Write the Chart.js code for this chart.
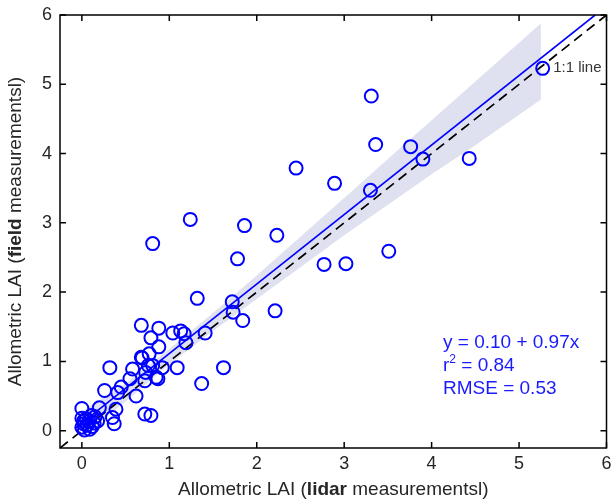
<!DOCTYPE html>
<html>
<head>
<meta charset="utf-8">
<script src="https://cdn.jsdelivr.net/npm/chart.js@4/dist/chart.umd.min.js"></script>
<style>
  body { margin: 0; background: #fff; }
  canvas { display: block; }
</style>
</head>
<body>
<canvas id="chart" width="615" height="501"></canvas>
<script>
// values
const lidarLAI = [0.00, 0.00, 0.02, 0.00, 0.03, 0.06, 0.08, 0.11, 0.12, 0.09, 0.15, 0.18, 0.20, 0.14, 0.02, 0.05,
    0.26, 0.32, 0.39, 0.35, 0.37, 0.41, 0.45, 0.55, 0.58, 0.62, 0.68, 0.68, 0.72, 0.79, 0.73, 0.72,
    0.77, 0.79, 0.81, 0.85, 0.87, 0.88, 0.88, 0.92, 1.04, 1.09, 1.13, 1.17, 1.19, 1.41, 1.37, 1.62,
    1.32, 1.72, 1.73, 1.84, 2.21, 0.81, 1.24, 1.86, 2.23, 1.78, 2.45, 2.89, 3.30, 3.31, 3.36, 3.76,
    3.90, 4.43, 3.51, 2.77, 3.02, 5.27, 0.69, 0.76];
const fieldLAI = [0.32, 0.18, 0.10, 0.05, 0.01, 0.08, 0.14, 0.22, 0.06, 0.02, 0.20, 0.14, 0.33, 0.11, 0.14, 0.17,
    0.58, 0.91, 0.31, 0.19, 0.10, 0.55, 0.63, 0.75, 0.89, 0.50, 1.52, 1.06, 0.24, 0.22, 0.84, 0.72,
    1.11, 1.34, 0.94, 0.77, 0.75, 1.48, 1.21, 0.91, 1.41, 0.91, 1.44, 1.40, 1.27, 1.41, 0.68, 0.91,
    1.91, 1.86, 1.71, 1.59, 1.73, 2.70, 3.05, 2.96, 2.82, 2.48, 3.79, 3.57, 3.47, 4.83, 4.13, 4.10,
    3.92, 3.93, 2.59, 2.40, 2.41, 5.23, 1.05, 0.94];

// fitted line ends and 1:1 line ends
const fitX = [-0.08, 5.87];
const fitY = [0.03, 6.0];
const oneX = [-0.25, 6];
const oneY = [-0.25, 6];

// confidence band
const bandX = [0, 0.5, 1.0, 1.5, 2.0, 2.5, 3.0, 3.5, 4.0, 4.5, 5.0, 5.25];
const bandUpper = [0.28, 0.68, 1.18, 1.70, 2.24, 2.80, 3.36, 3.92, 4.48, 5.04, 5.60, 5.88];
const bandLower = [-0.08, 0.42, 0.96, 1.44, 1.90, 2.36, 2.82, 3.26, 3.70, 4.12, 4.56, 4.78];

const tickVals = [0, 1, 2, 3, 4, 5, 6];

const FONT = '"Liberation Sans", Arial, Helvetica, sans-serif';
const TXT = '#262626';

function pairs(xs, ys) {
    return xs.map((x, i) => ({ x: x, y: ys[i] }));
}

// box frame with inward ticks on all sides
const framePlugin = {
    id: 'frame',
    afterDatasetsDraw(chart) {
        const ctx = chart.ctx;
        const a = chart.chartArea;
        const sx = chart.scales.x, sy = chart.scales.y;
        ctx.save();
        ctx.strokeStyle = '#000';
        ctx.lineWidth = 1.5;
        ctx.strokeRect(a.left, a.top, a.right - a.left, a.bottom - a.top);
        ctx.beginPath();
        tickVals.forEach(v => {
            const px = sx.getPixelForValue(v);
            ctx.moveTo(px, a.bottom); ctx.lineTo(px, a.bottom - 6);
            ctx.moveTo(px, a.top); ctx.lineTo(px, a.top + 6);
            const py = sy.getPixelForValue(v);
            ctx.moveTo(a.left, py); ctx.lineTo(a.left + 6, py);
            ctx.moveTo(a.right, py); ctx.lineTo(a.right - 6, py);
        });
        ctx.stroke();
        ctx.restore();
    }
};

function drawParts(ctx, parts, size) {
    let w = 0;
    parts.forEach(p => {
        ctx.font = (p[1] ? 'bold ' : '') + size + 'px ' + FONT;
        w += ctx.measureText(p[0]).width;
    });
    let x = -w / 2;
    parts.forEach(p => {
        ctx.font = (p[1] ? 'bold ' : '') + size + 'px ' + FONT;
        ctx.fillText(p[0], x, 0);
        x += ctx.measureText(p[0]).width;
    });
}

// axis titles with bold words, plus the notes
const textPlugin = {
    id: 'texts',
    afterDraw(chart) {
        const ctx = chart.ctx;
        const a = chart.chartArea;
        const sx = chart.scales.x, sy = chart.scales.y;
        ctx.save();
        ctx.fillStyle = TXT;
        ctx.textBaseline = 'middle';
        ctx.textAlign = 'left';

        ctx.save();
        ctx.translate((a.left + a.right) / 2, 490);
        drawParts(ctx, [['Allometric LAI (', false], ['lidar', true], [' measurementsl)', false]], 19);
        ctx.restore();

        ctx.save();
        ctx.translate(16, (a.top + a.bottom) / 2);
        ctx.rotate(-Math.PI / 2);
        drawParts(ctx, [['Allometric LAI (', false], ['field', true], [' measurementsl)', false]], 19);
        ctx.restore();

        ctx.font = '15px ' + FONT;
        ctx.fillStyle = '#333';
        ctx.fillText('1:1 line', sx.getPixelForValue(5.39), sy.getPixelForValue(5.23));

        ctx.fillStyle = '#1a1aff';
        const tx = sx.getPixelForValue(4.13);
        ctx.font = '19px ' + FONT;
        ctx.fillText('y = 0.10 + 0.97x', tx, sy.getPixelForValue(1.27));
        const ry = sy.getPixelForValue(0.94);
        ctx.fillText('r', tx, ry);
        let rx = tx + ctx.measureText('r').width;
        ctx.font = '12px ' + FONT;
        ctx.fillText('2', rx, ry - 6);
        rx += ctx.measureText('2').width;
        ctx.font = '19px ' + FONT;
        ctx.fillText(' = 0.84', rx, ry);
        ctx.fillText('RMSE = 0.53', tx, sy.getPixelForValue(0.61));
        ctx.restore();
    }
};

const ctx = document.getElementById('chart').getContext('2d');
new Chart(ctx, {
    type: 'scatter',
    data: {
        datasets: [{
            label: 'LAI',
            data: pairs(lidarLAI, fieldLAI),
            pointStyle: 'circle',
            pointRadius: 6.5,
            pointBorderWidth: 2,
            pointBorderColor: '#0000ff',
            pointBackgroundColor: 'rgba(0,0,0,0)'
        }, {
            label: 'fit',
            data: pairs(fitX, fitY),
            showLine: true,
            borderColor: '#0000ff',
            borderWidth: 1.6,
            pointRadius: 0
        }, {
            label: '1:1',
            data: pairs(oneX, oneY),
            showLine: true,
            borderColor: '#000',
            borderWidth: 1.7,
            borderDash: [10, 6],
            pointRadius: 0
        }, {
            label: 'upper',
            data: pairs(bandX, bandUpper),
            showLine: true,
            borderWidth: 0,
            borderColor: 'rgba(0,0,0,0)',
            backgroundColor: '#dfe1f0',
            fill: '+1',
            pointRadius: 0
        }, {
            label: 'lower',
            data: pairs(bandX, bandLower),
            showLine: true,
            borderWidth: 0,
            borderColor: 'rgba(0,0,0,0)',
            pointRadius: 0
        }]
    },
    options: {
        responsive: false,
        animation: false,
        layout: { padding: { left: 0, top: 15, right: 5, bottom: 0 } },
        plugins: {
            legend: { display: false },
            tooltip: { enabled: false }
        },
        scales: {
            x: {
                type: 'linear',
                min: -0.25,
                max: 6,
                grid: { display: false, drawTicks: false },
                border: { display: false },
                ticks: { color: TXT, font: { family: FONT, size: 18 }, padding: 5 },
                afterBuildTicks: s => { s.ticks = tickVals.map(v => ({ value: v })); },
                afterFit: s => { s.height = 53; s.paddingLeft = 0; s.paddingRight = 0; }
            },
            y: {
                type: 'linear',
                min: -0.25,
                max: 6,
                grid: { display: false, drawTicks: false },
                border: { display: false },
                ticks: { color: TXT, font: { family: FONT, size: 18 }, padding: 8 },
                afterBuildTicks: s => { s.ticks = tickVals.map(v => ({ value: v })); },
                afterFit: s => { s.width = 60; s.paddingTop = 0; s.paddingBottom = 0; }
            }
        }
    },
    plugins: [framePlugin, textPlugin]
});
</script>
</body>
</html>
